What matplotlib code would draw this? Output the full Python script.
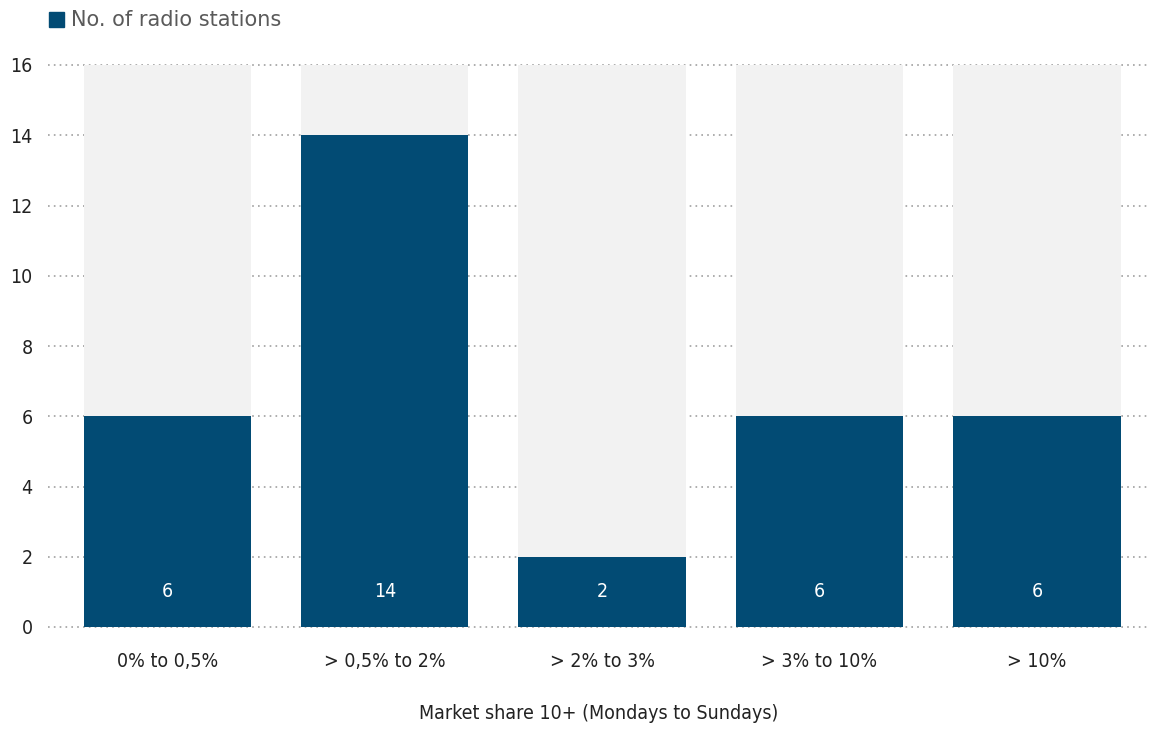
import matplotlib
matplotlib.use("Agg")
import matplotlib.pyplot as plt
from matplotlib.patches import Rectangle

categories = ["0% to 0,5%", "> 0,5% to 2%", "> 2% to 3%", "> 3% to 10%", "> 10%"]
stations = [6, 14, 2, 6, 6]
y_max = 16
y_ticks = [0, 2, 4, 6, 8, 10, 12, 14, 16]

plt.rcParams['font.family'] = ['DejaVu Sans']
plt.rcParams['font.stretch'] = 'condensed'

bar_color = "#024b74"
bg_color = "#f2f2f2"
txt = "#222222"

fig = plt.figure(figsize=(11.5, 7.29), dpi=100)
ax = fig.add_axes([48 / 1150, 102 / 729, 1102 / 1150, 562 / 729])

x = list(range(len(categories)))
ax.bar(x, [y_max] * len(x), width=0.77, color=bg_color, zorder=2)
ax.bar(x, stations, width=0.77, color=bar_color, zorder=3)

for xi, v in zip(x, stations):
    ax.text(xi, 1, str(v), ha="center", va="center", color="white", fontsize=14, zorder=4)

ax.set_xlim(-0.549, 4.52)
ax.set_ylim(0, y_max)
ax.set_yticks(y_ticks)
ax.set_xticks(x)
ax.set_xticklabels(categories, fontsize=14, color=txt)
ax.tick_params(axis="y", labelsize=14, colors=txt, length=0, pad=11)
ax.tick_params(axis="x", length=0, pad=18)
ax.set_axisbelow(True)
ax.yaxis.grid(True, linestyle=(0, (1, 2.5)), color="#a0a0a0", linewidth=1.2)
for gl in ax.get_ygridlines():
    gl.set_clip_on(False)
    gl.set_zorder(1)
for s in ax.spines.values():
    s.set_visible(False)

ax.set_xlabel("Market share 10+ (Mondays to Sundays)", fontsize=14, color=txt, labelpad=24)

# legend at top left
fig.patches.append(Rectangle((49 / 1150, 1 - 27 / 729), 15 / 1150, 15 / 729,
                             transform=fig.transFigure, color=bar_color))
fig.text(71 / 1150, 1 - 20 / 729, "No. of radio stations", fontsize=15, color="#5a5a5a",
         va="center", ha="left", stretch="normal")

fig.savefig("out.png", dpi=100)
